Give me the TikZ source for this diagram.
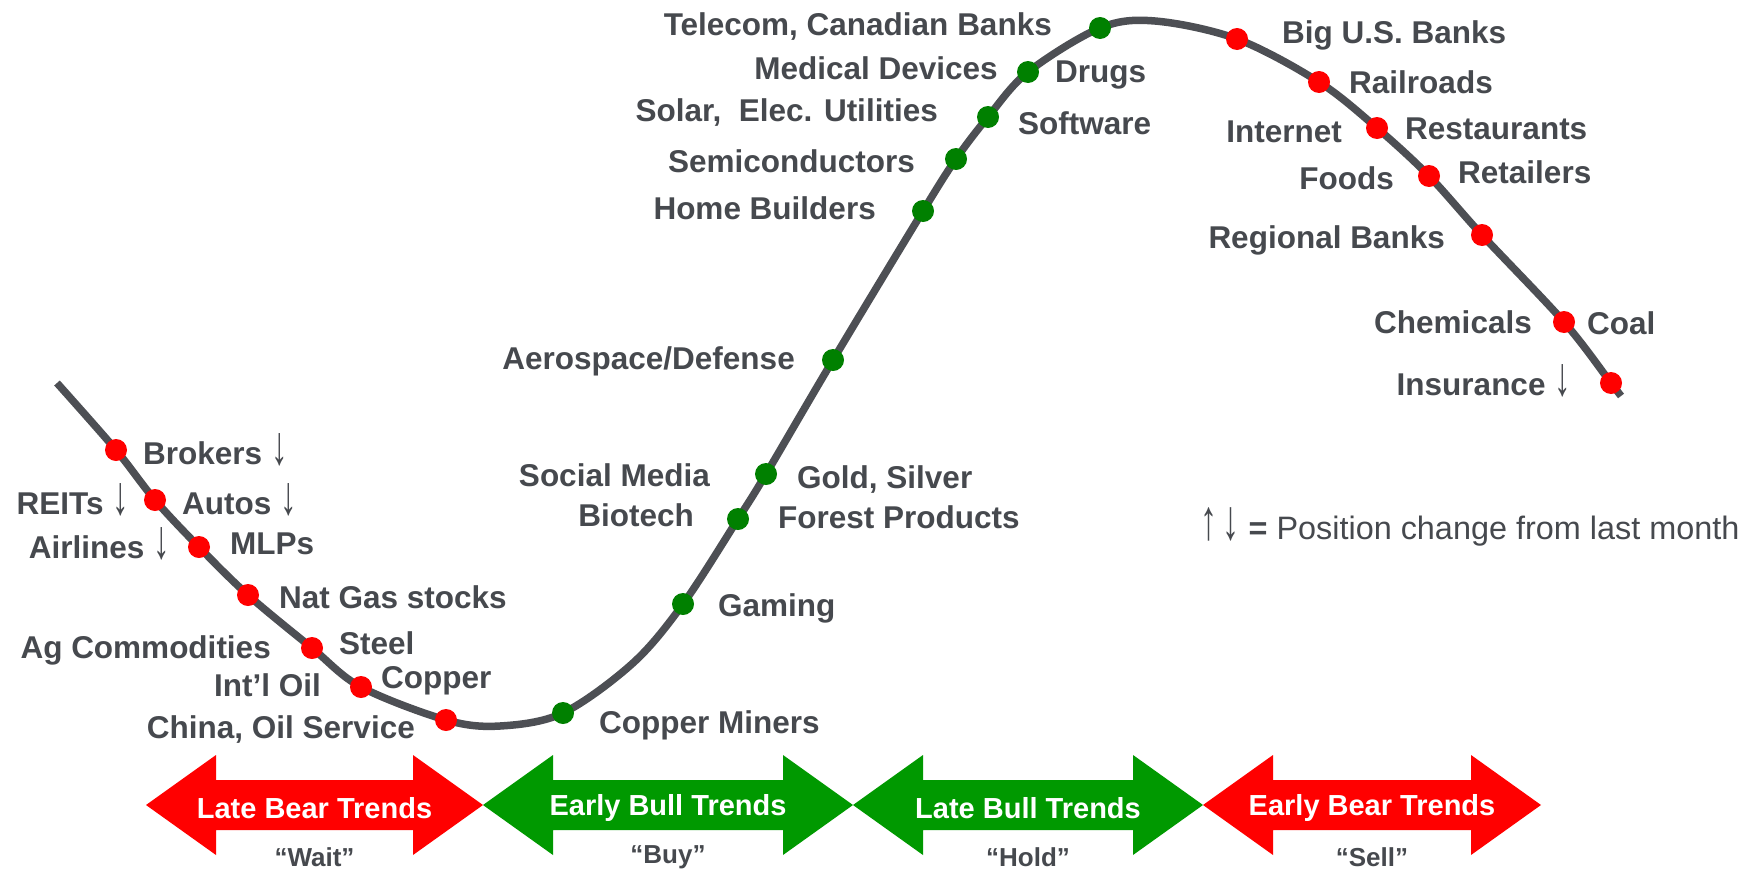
\documentclass[tikz,border=0pt]{standalone}
\usepackage{graphicx}
\usepackage{fontspec}
\setmainfont{Liberation Sans}
\definecolor{txtgray}{RGB}{70,73,78}
\definecolor{curvegray}{RGB}{77,79,84}
\definecolor{dotred}{RGB}{255,0,0}
\definecolor{dotgreen}{RGB}{0,128,0}
\definecolor{arrgreen}{RGB}{0,153,0}
\definecolor{arrred}{RGB}{255,0,0}
\newcommand{\tallarr}[1]{{\mdseries\scalebox{1.05}[1.75]{#1}}}
\newcommand{\dnarr}{\tallarr{↓}}
\newcommand{\trendarr}[5]{%
  \fill[#3] (#1,805) -- (#1+70,755) -- (#1+70,780) -- (#2-70,780) -- (#2-70,755) -- (#2,805)
    -- (#2-70,855) -- (#2-70,830) -- (#1+70,830) -- (#1+70,855) -- cycle;
  \node[arrtxt] (#4) at ({(#1+#2)/2},808) {#5};
}
\begin{document}
\begin{tikzpicture}[x=1pt,y=-1pt,
  lbl/.style={text=txtgray, font=\bfseries\fontsize{31.5}{31.5}\selectfont, inner sep=0pt},
  lw/.style={lbl, anchor=base west},
  le/.style={lbl, anchor=base east},
  rdot/.style={circle, fill=dotred, minimum size=22pt, inner sep=0pt},
  gdot/.style={circle, fill=dotgreen, minimum size=22pt, inner sep=0pt},
  curve/.style={draw=curvegray, line width=7.5pt},
  arrtxt/.style={text=white, font=\bfseries\fontsize{29}{29}\selectfont, inner sep=0pt},
  quote/.style={text=txtgray, font=\bfseries\fontsize{26}{26}\selectfont, inner sep=0pt}]
\useasboundingbox (0,0) rectangle (1758,870);
\fill[white] (0,0) rectangle (1758,870);

% curve points
\coordinate (s0) at (57,383);
\coordinate (d1) at (116,450);
\coordinate (d2) at (155,500);
\coordinate (d3) at (199,547);
\coordinate (d4) at (248,595);
\coordinate (d5) at (312,648);
\coordinate (d6) at (361,687);
\coordinate (d7) at (446,720);
\coordinate (m1) at (500,726);
\coordinate (d8) at (563,713);
\coordinate (m2) at (633,663);
\coordinate (d9) at (683,604);
\coordinate (d10) at (738,519);
\coordinate (d11) at (766,474);
\coordinate (d12) at (833,360);
\coordinate (d13) at (923,211);
\coordinate (d14) at (956,159);
\coordinate (d15) at (988,117);
\coordinate (d16) at (1028,72);
\coordinate (d17) at (1100,28);
\coordinate (m3) at (1155,21);
\coordinate (d18) at (1237,39);
\coordinate (d19) at (1319,82);
\coordinate (d20) at (1377,128);
\coordinate (d21) at (1429,176);
\coordinate (d22) at (1482,235);
\coordinate (d23) at (1564,322);
\coordinate (d24) at (1611,383);
\coordinate (s1) at (1621,396);

\draw[curve] plot[smooth, tension=0.55] coordinates {(s0) (d1) (d2) (d3) (d4) (d5) (d6) (d7) (m1) (d8) (m2) (d9) (d10) (d11) (d12) (d13) (d14) (d15) (d16) (d17) (m3) (d18) (d19) (d20) (d21) (d22) (d23) (d24) (s1)};

% dots
\node[rdot] (brokersdot) at (d1) {};
\node[rdot] (autosdot) at (d2) {};
\node[rdot] (mlpsdot) at (d3) {};
\node[rdot] (natgasdot) at (d4) {};
\node[rdot] (steeldot) at (d5) {};
\node[rdot] (copperdot) at (d6) {};
\node[rdot] (chinadot) at (d7) {};
\node[gdot] (minersdot) at (d8) {};
\node[gdot] (gamingdot) at (d9) {};
\node[gdot] (forestdot) at (d10) {};
\node[gdot] (golddot) at (d11) {};
\node[gdot] (aerodot) at (d12) {};
\node[gdot] (homedot) at (d13) {};
\node[gdot] (semidot) at (d14) {};
\node[gdot] (softdot) at (d15) {};
\node[gdot] (drugsdot) at (d16) {};
\node[gdot] (telecomdot) at (d17) {};
\node[rdot] (bigusdot) at (d18) {};
\node[rdot] (raildot) at (d19) {};
\node[rdot] (restdot) at (d20) {};
\node[rdot] (retaildot) at (d21) {};
\node[rdot] (regionaldot) at (d22) {};
\node[rdot] (coaldot) at (d23) {};
\node[rdot] (insdot) at (d24) {};

% labels left part
\node[lw] (brokers) at (143,464) {Brokers \dnarr};
\node[le] (reits) at (129,514) {REITs \dnarr};
\node[lw] (autos) at (182,514) {Autos \dnarr};
\node[le] (airlines) at (170,558) {Airlines \dnarr};
\node[lw] (mlps) at (230,554) {MLPs};
\node[lw] (natgas) at (279,608) {Nat Gas stocks};
\node[le] (agcomm) at (271,658) {Ag Commodities};
\node[lw] (steel) at (339,654) {Steel};
\node[le] (intloil) at (321,696) {Int’l Oil};
\node[lw] (copper) at (381,688) {Copper};
\node[le] (china) at (415,738) {China, Oil Service};
% middle
\node[lw] (miners) at (599,733) {Copper Miners};
\node[lw] (gaming) at (718,616) {Gaming};
\node[lw] (forest) at (778,528) {Forest Products};
\node[lw] (gold) at (797,488) {Gold, Silver};
\node[le] (social) at (710,486) {Social Media};
\node[le] (biotech) at (694,526) {Biotech};
\node[le] (aero) at (795,369) {Aerospace/Defense};
\node[le] (home) at (876,219) {Home Builders};
\node[le] (semi) at (915,172) {Semiconductors};
\node[le] (solar) at (938,121) {Solar,~ Elec. Utilities};
\node[lw] (software) at (1018,134) {Software};
\node[le] (medical) at (998,79) {Medical Devices};
\node[lw] (drugs) at (1055,82) {Drugs};
\node[le] (telecom) at (1052,35) {Telecom, Canadian Banks};
% right
\node[lw] (bigus) at (1282,43) {Big U.S. Banks};
\node[lw] (railroads) at (1349,93) {Railroads};
\node[le] (internet) at (1342,142) {Internet};
\node[lw] (restaurants) at (1405,139) {Restaurants};
\node[le] (foods) at (1394,189) {Foods};
\node[lw] (retailers) at (1458,183) {Retailers};
\node[le] (regional) at (1445,248) {Regional Banks};
\node[le] (chemicals) at (1532,333) {Chemicals};
\node[lw] (coal) at (1587,334) {Coal};
\node[le] (insurance) at (1571,395) {Insurance \dnarr};

% legend
\node[lbl, anchor=base west, font=\mdseries\fontsize{32.4}{32.4}\selectfont] (legend) at (1200,539)
  {\tallarr{↑}\,\tallarr{↓} {\bfseries =} Position change from last month};

% trend arrows
\trendarr{146}{483}{arrred}{latebear}{Late Bear Trends}
\trendarr{483}{853}{arrgreen}{earlybull}{Early Bull Trends}
\trendarr{853}{1203}{arrgreen}{latebull}{Late Bull Trends}
\trendarr{1203}{1541}{arrred}{earlybear}{Early Bear Trends}

\node[quote] (wait) at (latebear |- 0,857) {“Wait”};
\node[quote] (buy) at (earlybull |- 0,857) {“Buy”};
\node[quote] (hold) at (latebull |- 0,857) {“Hold”};
\node[quote] (sell) at (earlybear |- 0,857) {“Sell”};
\end{tikzpicture}
\end{document}
